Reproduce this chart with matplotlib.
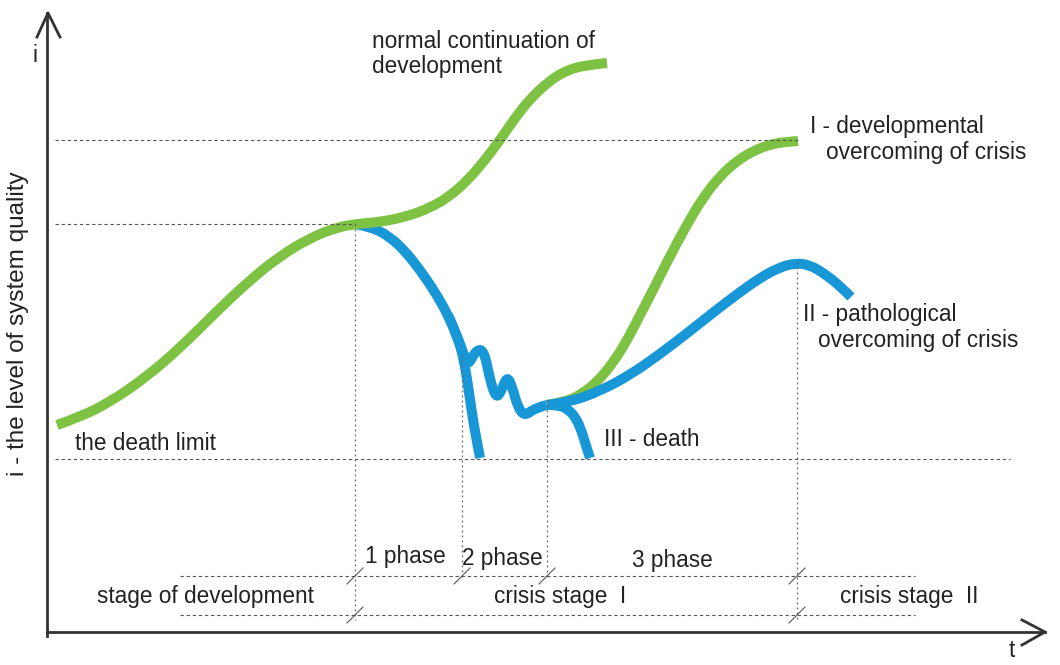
"""
Crisis diagram: level of system quality i against time t.
Drawn in picture coordinates (x to the right, y downwards).
"""
import matplotlib
matplotlib.use("Agg")
import matplotlib.pyplot as plt
from matplotlib.path import Path
from matplotlib.patches import PathPatch

plt.rcParams['font.family'] = ['Liberation Sans', 'DejaVu Sans']

GREEN = "#7dc242"
BLUE = "#1897d7"
GREY = "#333333"

# main development curve (green)
dev_x = [57, 80, 110, 145, 180, 215, 250, 280, 310, 335, 355, 380, 405, 430, 450,
         468, 485, 500, 515, 530, 548, 565, 585, 607]
dev_y = [425, 417, 402, 378, 348, 313, 280, 256, 238, 228, 224, 222, 217, 208, 196,
         180, 160, 140, 118, 99, 82, 71, 65, 63]

# decline into crisis (blue), with the wiggles of phase 2
fall_x = [355, 372, 390, 405, 420, 435, 448, 458, 464, 468, 476, 484, 490, 496,
          501, 507, 512, 518, 525, 535, 547]
fall_y = [224, 227, 237, 251, 270, 292, 315, 338, 355, 366, 350, 350, 380, 398,
          392, 376, 386, 408, 416, 408, 405]

# early collapse at phase 2
drop_x = [448, 458, 464, 469, 473, 477, 480]
drop_y = [315, 338, 360, 392, 420, 442, 458]

# III - death
death_x = [547, 558, 568, 576, 582, 586, 590]
death_y = [405, 405, 409, 418, 432, 446, 458]

# I - developmental overcoming of crisis (green)
good_x = [547, 565, 582, 598, 612, 625, 638, 652, 668, 685, 702, 720, 738, 755, 772, 785, 798]
good_y = [405, 402, 394, 381, 364, 344, 319, 292, 260, 228, 199, 176, 160, 150, 144, 142, 141]

# II - pathological overcoming of crisis (blue)
path_x = [547, 570, 600, 630, 660, 690, 715, 740, 760, 778, 795, 810, 825, 840, 851]
path_y = [405, 402, 391, 375, 354, 331, 311, 292, 278, 268, 263, 265, 274, 286, 297]

# guide lines
h_levels = [140, 224, 459, 576, 615]
h_starts = [55, 55, 55, 180, 180]
h_ends = [800, 355, 1010, 915, 915]
v_pos = [355, 462, 547, 797]
v_tops = [224, 355, 400, 262]
v_bottoms = [620, 580, 580, 620]
slash_pts = [(355, 576), (355, 615), (462, 576), (547, 576), (797, 576), (797, 615)]


def smooth_curve(xs, ys, color):
    # quadratic bezier through the midpoints, read points used as control points
    pts = list(zip(xs, ys))
    verts = [pts[0]]
    codes = [Path.MOVETO]
    for i in range(1, len(pts) - 1):
        mid = ((pts[i][0] + pts[i + 1][0]) / 2, (pts[i][1] + pts[i + 1][1]) / 2)
        if i == len(pts) - 2:
            mid = pts[-1]
        verts += [pts[i], mid]
        codes += [Path.CURVE3, Path.CURVE3]
    patch = PathPatch(Path(verts, codes), facecolor="none", edgecolor=color,
                      lw=7.2, capstyle="butt", joinstyle="round")
    ax.add_patch(patch)


fig = plt.figure(figsize=(10.6, 6.65), dpi=100)
ax = fig.add_axes([0, 0, 1, 1])
ax.set_xlim(0, 1060)
ax.set_ylim(665, 0)
ax.axis("off")

for y, x0, x1 in zip(h_levels, h_starts, h_ends):
    ax.plot([x0, x1], [y, y], color="#555555", lw=0.8, ls=(0, (3, 2.5)))
for x, y0, y1 in zip(v_pos, v_tops, v_bottoms):
    ax.plot([x, x], [y0, y1], color="#666666", lw=0.9, ls=(0, (1.5, 2.5)))
for x, y in slash_pts:
    ax.plot([x - 8, x + 8], [y + 8, y - 8], color="#555555", lw=0.8)

smooth_curve(drop_x, drop_y, BLUE)
smooth_curve(fall_x, fall_y, BLUE)
smooth_curve(death_x, death_y, BLUE)
smooth_curve(dev_x, dev_y, GREEN)
smooth_curve(good_x, good_y, GREEN)
smooth_curve(path_x, path_y, BLUE)

# axes with open arrowheads
ax.plot([47, 47], [13, 636], color=GREY, lw=2)
ax.plot([37, 48, 60], [37, 13, 37], color=GREY, lw=2)
ax.plot([47, 1045], [632, 632], color=GREY, lw=2)
ax.plot([1022, 1045, 1022], [620, 632, 645], color=GREY, lw=2)

fs = 16.3
tc = "#222222"
ax.text(35, 55, "i", fontsize=fs, color=tc, ha="center", va="center")
ax.text(1012, 662, "t", fontsize=fs, color=tc, ha="center", va="bottom")
ax.text(18, 324, "i - the level of system quality", fontsize=17.5, color=tc,
        rotation=90, ha="center", va="center")

ax.text(372, 42, "normal continuation of", fontsize=fs, color=tc, va="center")
ax.text(372, 67, "development", fontsize=fs, color=tc, va="center")
ax.text(810, 127, "I - developmental", fontsize=fs, color=tc, va="center")
ax.text(826, 152, "overcoming of crisis", fontsize=fs, color=tc, va="center")
ax.text(803, 315, "II - pathological", fontsize=fs, color=tc, va="center")
ax.text(818, 340, "overcoming of crisis", fontsize=fs, color=tc, va="center")
ax.text(604, 439, "III - death", fontsize=fs, color=tc, va="center")
ax.text(75, 443, "the death limit", fontsize=fs, color=tc, va="center")
ax.text(365, 557, "1 phase", fontsize=fs, color=tc, va="center")
ax.text(462, 559, "2 phase", fontsize=fs, color=tc, va="center")
ax.text(632, 560, "3 phase", fontsize=fs, color=tc, va="center")
ax.text(97, 596, "stage of development", fontsize=fs, color=tc, va="center")
ax.text(494, 597, "crisis stage  I", fontsize=fs, color=tc, va="center")
ax.text(840, 597, "crisis stage  II", fontsize=fs, color=tc, va="center")

fig.savefig("out.png", dpi=100)
